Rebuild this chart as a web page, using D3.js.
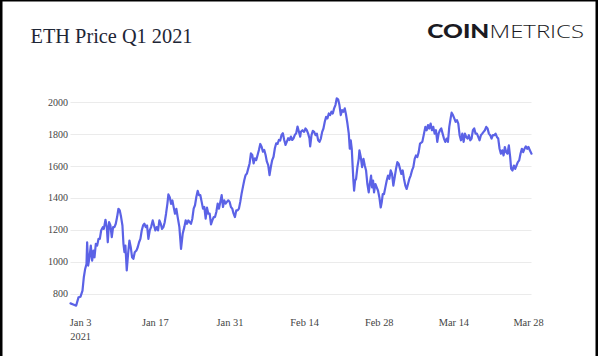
<!DOCTYPE html>
<html>
<head>
<meta charset="utf-8">
<script src="https://cdn.jsdelivr.net/npm/d3@7"></script>
<style>
  html, body { margin: 0; padding: 0; background: #fff; }
  svg { display: block; }
</style>
</head>
<body>
<script>
// ---- Data ----
// fractional days since 2021-01-01 00:00 UTC
const days = [
  0.19,0.82,1.25,1.69,2.07,2.44,2.69,2.94,3.19,3.31,3.50,3.75,4.00,4.25,4.50,4.69,4.94,5.19,5.44,5.69,5.94,6.25,6.44,6.75,7.00,7.18,7.43,7.68,7.93,8.18,8.43,8.68,8.93,9.18,9.43,9.68,9.93,10.12,10.31,10.49,10.74,10.99,11.24,11.49,11.74,11.99,12.24,12.55,12.80,13.05,13.30,13.55,13.80,14.05,14.30,14.55,14.80,15.05,15.30,15.61,15.86,16.11,16.36,16.61,16.86,17.11,17.36,17.61,17.86,18.11,18.36,18.55,18.80,19.05,19.30,19.54,19.79,20.04,20.29,20.61,20.78,
  20.92,21.23,21.54,21.79,22.04,22.29,22.54,22.79,23.04,23.29,23.54,23.79,24.04,24.29,24.54,24.79,25.04,25.29,25.54,25.79,26.04,26.29,26.54,26.79,27.04,27.29,27.54,27.79,28.04,28.29,28.54,28.79,29.03,29.28,29.53,29.78,30.03,30.28,30.53,30.78,31.03,31.28,31.53,31.78,32.03,32.28,32.53,32.78,33.03,33.28,33.53,33.78,34.03,34.28,34.53,34.78,35.03,35.28,35.53,35.78,36.03,36.28,36.53,36.78,37.02,37.27,37.52,37.77,38.02,38.27,38.52,38.77,39.02,39.27,39.52,39.77,40.02,40.27,40.52,40.77,41.02,41.27,41.52,41.77,42.02,42.27,42.52,42.77,43.02,43.27,
  43.39,43.70,44.01,44.26,44.51,44.76,45.01,45.14,45.39,45.64,45.89,46.14,46.39,46.64,46.89,47.14,47.39,47.63,47.88,48.13,48.38,48.63,48.88,49.13,49.38,49.63,49.88,50.13,50.38,50.63,50.88,51.13,51.38,51.63,51.88,52.13,52.38,52.57,52.75,52.94,53.13,53.25,53.38,53.56,53.75,54.00,54.25,54.38,54.63,54.88,55.13,55.38,55.62,55.87,56.12,56.37,56.56,56.75,56.94,57.12,57.37,57.62,57.87,58.12,58.37,58.56,58.75,58.99,59.24,59.49,59.74,59.99,60.24,60.49,60.74,60.99,61.24,61.49,61.74,61.99,62.24,62.49,62.74,62.99,63.24,63.49,63.74,63.99,64.24,64.49,64.74,64.99,65.24,65.49,65.74,
  66.17,66.49,66.74,66.99,67.24,67.48,67.73,67.98,68.23,68.48,68.73,68.98,69.23,69.48,69.73,69.98,70.23,70.48,70.73,70.98,71.23,71.48,71.67,71.92,72.17,72.42,72.67,72.92,73.17,73.42,73.67,73.92,74.16,74.41,74.66,74.91,75.16,75.41,75.66,75.91,76.16,76.41,76.66,76.91,77.16,77.41,77.66,77.91,78.16,78.41,78.66,78.91,79.16,79.41,79.66,79.91,80.16,80.41,80.66,80.91,81.16,81.41,81.65,81.90,82.15,82.40,82.65,82.84,83.09,83.34,83.59,83.84,84.09,84.34,84.59,84.84,85.09,85.34,85.59,85.84,86.09,86.34,86.65
];
// ETH price (USD)
const prices = [
  738,730,724,776,780,818,902,954,985,1121,975,1027,1100,1006,1069,1027,1111,1100,1142,1142,1195,1216,1205,1262,1216,1121,1247,1226,1153,1216,1216,1237,1279,1331,1320,1279,1226,1111,1059,1100,944,1048,1132,1090,1027,1017,1059,1069,1090,1121,1142,1195,1226,1237,1216,1226,1142,1195,1216,1258,1226,1195,1216,1195,1258,1237,1205,1216,1247,1300,1362,1421,1404,1362,1383,1341,1300,1331,1279,1216,1140,
  1080,1174,1216,1258,1237,1258,1248,1237,1269,1332,1353,1405,1443,1416,1416,1374,1332,1342,1269,1338,1300,1300,1233,1258,1279,1279,1311,1363,1332,1374,1416,1342,1384,1363,1374,1384,1374,1342,1332,1300,1279,1321,1321,1332,1374,1426,1468,1510,1542,1552,1584,1615,1678,1668,1615,1647,1636,1668,1699,1737,1720,1689,1699,1668,1626,1605,1542,1594,1636,1657,1710,1741,1737,1762,1758,1794,1804,1762,1731,1752,1773,1762,1783,1762,1773,1794,1804,1846,1815,1783,
  1813,1823,1813,1834,1823,1802,1771,1722,1792,1819,1813,1792,1802,1760,1750,1771,1813,1834,1876,1907,1897,1928,1918,1939,1928,1960,1981,2023,2017,1981,1918,1949,1939,1960,1918,1865,1802,1707,1760,1707,1581,1507,1444,1507,1518,1592,1644,1697,1655,1592,1644,1602,1571,1486,1434,1497,1539,1465,1507,1434,1486,1465,1444,1402,1339,1371,1423,1423,1465,1507,1539,1518,1571,1549,1476,1528,1581,1623,1613,1581,1549,1571,1518,1476,1455,1486,1518,1539,1571,1592,1644,1665,1655,1686,1739,
  1750,1802,1844,1823,1855,1834,1865,1823,1844,1802,1823,1750,1802,1823,1834,1802,1771,1750,1771,1750,1844,1897,1933,1918,1897,1876,1886,1865,1792,1760,1802,1750,1802,1781,1771,1792,1760,1771,1823,1834,1802,1802,1781,1760,1792,1802,1813,1823,1844,1834,1802,1792,1771,1792,1792,1802,1781,1771,1707,1676,1697,1665,1718,1686,1676,1728,1655,1581,1571,1602,1581,1602,1623,1634,1676,1707,1686,1707,1722,1707,1718,1697,1676
];
const xTickDates = ["2021-01-03","2021-01-17","2021-01-31","2021-02-14","2021-02-28","2021-03-14","2021-03-28"];
const xTickLabels = ["Jan 3","Jan 17","Jan 31","Feb 14","Feb 28","Mar 14","Mar 28"];
const yTicks = [800, 1000, 1200, 1400, 1600, 1800, 2000];
const title = "ETH Price Q1 2021";

// ---- Drawing ----
const W = 600, H = 356;
const start = Date.UTC(2021, 0, 1);
const data = days.map((d, i) => ({ date: new Date(start + d * 864e5), v: prices[i] }));

const svg = d3.select("body").append("svg").attr("width", W).attr("height", H);
svg.append("rect").attr("width", W).attr("height", H).attr("fill", "#fff");

const x = d3.scaleUtc().domain(d3.extent(data, d => d.date)).range([70.5, 531.5]);
const y = d3.scaleLinear().domain([800, 2000]).range([293.5, 102]);

// gridlines
svg.append("g").selectAll("line").data(yTicks).join("line")
  .attr("x1", 70.5).attr("x2", 531.5)
  .attr("y1", d => Math.round(y(d)) + 0.5).attr("y2", d => Math.round(y(d)) + 0.5)
  .attr("stroke", "#ebebeb").attr("stroke-width", 1);

// y axis labels
const yAxis = svg.append("g").attr("transform", "translate(68,0)")
  .call(d3.axisLeft(y).tickValues(yTicks).tickSize(0).tickPadding(0).tickFormat(d3.format("d")));
yAxis.select(".domain").remove();
yAxis.selectAll("text").attr("font-family", "'Liberation Serif', 'Times New Roman', serif")
  .attr("font-size", "10px").attr("fill", "#444");

// x axis labels
const xAxis = svg.append("g").attr("transform", "translate(0,319)")
  .call(d3.axisBottom(x).tickValues(xTickDates.map(s => new Date(s + "T00:00:00Z")))
    .tickSize(0).tickPadding(0).tickFormat((d, i) => xTickLabels[i]));
xAxis.select(".domain").remove();
xAxis.selectAll("text").attr("font-family", "'Liberation Serif', 'Times New Roman', serif")
  .attr("font-size", "10.4px").attr("fill", "#444")
  .attr("dominant-baseline", "hanging").attr("dy", null);
xAxis.selectAll(".tick").filter((d, i) => i === 0).append("text")
  .attr("y", 14)
  .attr("font-family", "'Liberation Serif', 'Times New Roman', serif")
  .attr("font-size", "10.4px").attr("fill", "#444").attr("text-anchor", "middle")
  .attr("dominant-baseline", "hanging")
  .text("2021");

// line
svg.append("path").datum(data)
  .attr("fill", "none").attr("stroke", "#5b62e6").attr("stroke-width", 2.2)
  .attr("stroke-linejoin", "round").attr("stroke-linecap", "round")
  .attr("d", d3.line().x(d => x(d.date)).y(d => y(d.v)));

// title
svg.append("text").attr("x", 30.5).attr("y", 43.3)
  .attr("font-family", "'Liberation Serif', 'Times New Roman', serif")
  .attr("font-size", "21.5px").attr("fill", "#1e2636")
  .attr("textLength", 162).attr("lengthAdjust", "spacingAndGlyphs")
  .text(title);

// logo
svg.append("text").attr("x", 427.3).attr("y", 37.7)
  .attr("font-family", "Lato, 'Open Sans', sans-serif").attr("font-weight", 900)
  .attr("font-size", "19px").attr("fill", "#1a1a22")
  .attr("textLength", 62).attr("lengthAdjust", "spacingAndGlyphs")
  .text("COIN");
svg.append("text").attr("x", 489.5).attr("y", 37.7)
  .attr("font-family", "'Open Sans', Lato, sans-serif").attr("font-weight", 300)
  .attr("font-size", "18.5px").attr("fill", "#1a1a22")
  .attr("textLength", 94.5).attr("lengthAdjust", "spacingAndGlyphs")
  .text("METRICS");

// frame (left, top, right)
svg.append("rect").attr("x", 0).attr("y", 0).attr("width", 2.5).attr("height", H).attr("fill", "#000");
svg.append("rect").attr("x", 0).attr("y", 0).attr("width", 598).attr("height", 1.5).attr("fill", "#000");
svg.append("rect").attr("x", 595.5).attr("y", 0).attr("width", 2.5).attr("height", H).attr("fill", "#000");
</script>
</body>
</html>
